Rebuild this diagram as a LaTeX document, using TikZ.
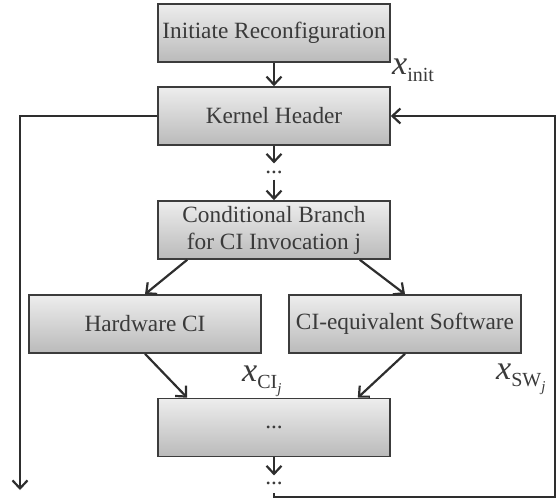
\documentclass[tikz,border=0pt]{standalone}
\usepackage{fontspec}
\setmainfont{Liberation Serif}
\usetikzlibrary{arrows.meta,calc}

\definecolor{inkline}{HTML}{2E2E2E}
\definecolor{inktext}{HTML}{3A3A3A}
\definecolor{boxedge}{HTML}{3C3C3C}

\newcommand{\varx}[1]{{\fontsize{34}{34}\selectfont\itshape x}\raisebox{-7pt}{\fontsize{20}{20}\selectfont #1}}
\newcommand{\subj}{\raisebox{-5pt}{\fontsize{15}{15}\selectfont\itshape j}}

\begin{document}
\begin{tikzpicture}[x=1pt,y=-1pt,
  blockbox/.style={draw=boxedge, line width=1.6pt, top color=black!7, bottom color=black!27,
    minimum width=232pt, minimum height=58pt, inner sep=2pt, align=center,
    text=inktext, font=\fontsize{23.3}{27}\selectfont},
  dotsnode/.style={inner sep=0pt, text=inktext, font=\fontsize{23.3}{27}\selectfont},
  barb/.style={-{Straight Barb[length=8pt,width=15pt,line width=2.2pt]}},
  flow/.style={draw=inkline, line width=2.2pt, barb},
  loopline/.style={draw=inkline, line width=2.2pt},
  varlabel/.style={inner sep=0pt, anchor=base west, text=inktext}]

\useasboundingbox (0,0) rectangle (557,501);

% main column of blocks
\node[blockbox] (init) at (274,33) {Initiate Reconfiguration};
\node[blockbox] (kern) at (274,116) {Kernel Header};
\node[dotsnode] (dots1) at (274,172) {...};
\node[blockbox] (cond) at (274,230) {Conditional Branch\\for CI Invocation j};
\node[blockbox] (hw) at (145,324) {Hardware CI};
\node[blockbox] (sw) at (405,324) {CI-equivalent Software};
\node[blockbox] (merge) at (274,427.5) {...};
\node[dotsnode] (dots2) at (274,483) {...};

% path variables
\node[varlabel] (xinit) at (392,74) {\varx{init}};
\node[varlabel] (xci) at (242,381) {\varx{CI\subj}};
\node[varlabel] (xsw) at (496,379) {\varx{SW\subj}};

% free ends of the loop lines
\coordinate (leftend) at (20,490);
\coordinate (loopstart) at (274,493);

% forward flow
\draw[flow] (init) -- (kern);
\draw[flow, shorten >=7pt] (kern.south) -- (dots1.north);
\draw[flow, shorten <=6pt] (dots1.south) -- (cond.north);
\draw[flow] ($(cond.south west)+(30,0)$) -- (hw.north);
\draw[flow] ($(cond.south east)+(-31,0)$) -- (sw.north);
\draw[flow] (hw.south) -- ($(merge.north west)+(30,0)$);
\draw[flow] (sw.south) -- ($(merge.north east)+(-33,0)$);
\draw[flow, shorten >=6pt] (merge.south) -- (dots2.north);

% exit and loop-back lines
\draw[flow] (kern.west) -| (leftend);
\draw[loopline, barb] (loopstart) -- ++(0,4) -| (555,116) -- (kern.east);
\end{tikzpicture}
\end{document}
